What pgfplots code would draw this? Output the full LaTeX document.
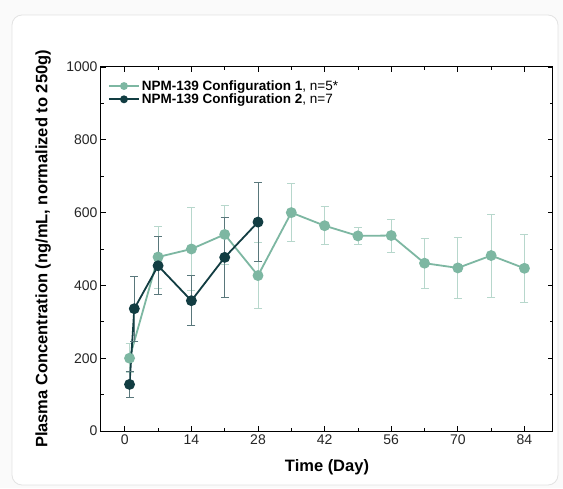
\documentclass[border=0pt]{standalone}
\usepackage{fontspec}
\setmainfont{Liberation Sans}
\usepackage{pgfplots}
\pgfplotsset{compat=1.18}
\definecolor{cone}{HTML}{7DB7A2}
\definecolor{ctwo}{HTML}{123D42}
\begin{document}
\begin{tikzpicture}
\useasboundingbox (0pt,0pt) rectangle (563pt,488pt);
\fill[gray!4] (0pt,0pt) rectangle (563pt,488pt);
\fill[white, draw=gray!22, line width=0.8pt, rounded corners=10pt] (12pt,3pt) rectangle (558pt,473pt);
\begin{axis}[
  at={(101pt,57pt)}, anchor=south west,
  width=452pt, height=364pt, scale only axis,
  xmin=-5, xmax=90, ymin=0, ymax=1000,
  xtick={0,14,...,84}, ytick={0,200,...,1000},
  minor x tick num=1, minor y tick num=1,
  tick align=inside,
  major tick length=5pt, minor tick length=3pt,
  axis line style={line width=1pt},
  tick style={line width=0.8pt, black},
  ticklabel style={font=\fontsize{14}{16}\selectfont, text=black!85},
  /pgf/number format/assume math mode=true,
  /pgf/number format/set thousands separator={},
  xlabel={\textbf{Time (Day)}},
  ylabel={\textbf{Plasma Concentration (ng/mL, normalized to 250g)}},
  label style={font=\fontsize{16.5}{18}\selectfont},
  xlabel style={at={(axis description cs:0.5,-0.099)}, anchor=center},
  ylabel style={at={(axis description cs:-0.128,0.5)}, anchor=center},
  legend style={at={(0.013,0.972)}, anchor=north west, draw=none, fill=none,
    font=\fontsize{13.5}{14}\selectfont, row sep=-2pt, inner sep=1pt},
  legend cell align=left,
  legend image code/.code={
    \draw[#1] (0pt,0pt) -- (30pt,0pt);
    \draw[#1, only marks, mark size=3pt] plot coordinates {(15pt,0pt)};
  },
]
\addplot[color=cone, line width=1.8pt, mark=*, mark size=4.5pt,
  mark options={fill=cone, draw=cone},
  error bars/.cd, y dir=both, y explicit,
  error bar style={color=cone!55, line width=0.8pt},
  error mark options={rotate=90, mark size=4pt, color=cone!55, line width=0.8pt}]
table[x=x, y=y, y error=e] {
x y e
1 200 40
7 478 85
14 500 113
21 540 81
28 427 90
35 600 80
42 564 52
49 536 24
56 537 45
63 461 68
70 448 85
77 482 114
84 447 93
};
\addlegendentry{\textbf{NPM-139 Configuration 1}, n=5*}
\addplot[color=ctwo, line width=1.8pt, mark=*, mark size=4.5pt,
  mark options={fill=ctwo, draw=ctwo},
  error bars/.cd, y dir=both, y explicit,
  error bar style={color=ctwo!70, line width=0.8pt},
  error mark options={rotate=90, mark size=4pt, color=ctwo!70, line width=0.8pt}]
table[x=x, y=y, y error=e] {
x y e
1 128 35
2 336 90
7 454 80
14 358 69
21 477 110
28 574 108
};
\addlegendentry{\textbf{NPM-139 Configuration 2}, n=7}
\end{axis}
\end{tikzpicture}
\end{document}
